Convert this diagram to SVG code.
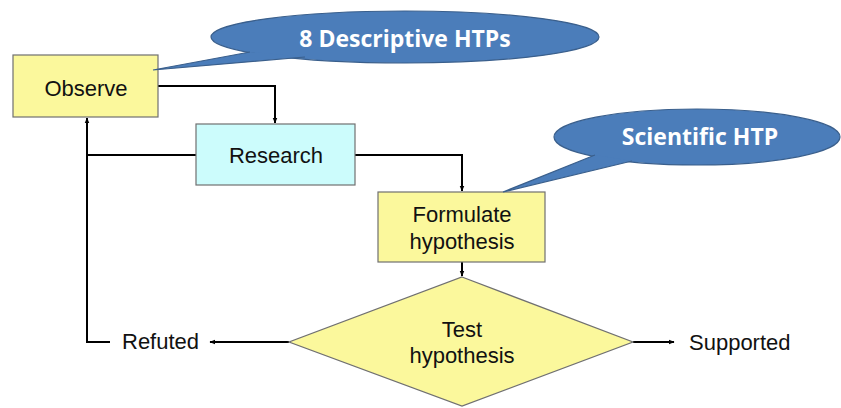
<svg xmlns="http://www.w3.org/2000/svg" width="841" height="408" viewBox="0 0 841 408">
  <defs>
    <marker id="arrow" viewBox="0 0 10 10" refX="9" refY="5" markerWidth="6" markerHeight="6" orient="auto" markerUnits="userSpaceOnUse">
      <path d="M0,1 L10,5 L0,9 z" fill="#000"/>
    </marker>
    <style>
      .box { stroke: #707070; stroke-width: 1.2; }
      .yellow { fill: #fbf89c; }
      .cyan { fill: #ccfcfc; }
      .lbl { font-family: "Liberation Sans", Arial, sans-serif; font-size: 22px; fill: #111; text-anchor: middle; }
      .plain { font-family: "Liberation Sans", Arial, sans-serif; font-size: 22px; fill: #111; }
      .bubble { fill: #4b7dba; stroke: #3a5f8c; stroke-width: 1.2; }
      .btxt { font-family: "Open Sans", "Liberation Sans", sans-serif; font-weight: bold; font-size: 23px; fill: #fff; text-anchor: middle; }
      .conn { fill: none; stroke: #000; stroke-width: 2; }
    </style>
  </defs>
  <rect width="841" height="408" fill="#fff"/>

  <!-- connectors -->
  <g id="connectors">
    <path class="conn" d="M158,86 H275 V123" marker-end="url(#arrow)"/>
    <path class="conn" d="M355,155 H462 V191" marker-end="url(#arrow)"/>
    <path class="conn" d="M196,155 H87"/>
    <path class="conn" d="M110,342 H87 V118" marker-end="url(#arrow)"/>
    <path class="conn" d="M462,262 V276" marker-end="url(#arrow)"/>
    <path class="conn" d="M289,342 H210" marker-end="url(#arrow)"/>
    <path class="conn" d="M633,342 H674" marker-end="url(#arrow)"/>
  </g>

  <g id="observe">
    <rect class="box yellow" x="13" y="55" width="145" height="62"/>
    <text class="lbl" x="86" y="96">Observe</text>
  </g>

  <g id="research">
    <rect class="box cyan" x="196" y="124" width="159" height="61"/>
    <text class="lbl" x="276" y="163">Research</text>
  </g>

  <g id="formulate">
    <rect class="box yellow" x="378" y="192" width="167" height="70"/>
    <text class="lbl" x="462" y="222">Formulate</text>
    <text class="lbl" x="462" y="249">hypothesis</text>
  </g>

  <g id="test">
    <polygon class="box yellow" points="462,277 633,342 462,406 289,342"/>
    <text class="lbl" x="462" y="337">Test</text>
    <text class="lbl" x="462" y="363">hypothesis</text>
  </g>

  <g id="refuted">
    <text class="plain" x="122" y="349">Refuted</text>
  </g>

  <g id="supported">
    <text class="plain" x="689" y="350">Supported</text>
  </g>

  <!-- speech bubbles: outlined ellipse, then a tail whose fill covers the outline where it joins -->
  <g id="callout-descriptive">
    <ellipse class="bubble" cx="405" cy="37" rx="194" ry="26"/>
    <path class="bubble" d="M250,52 L153,70 L305,57"/>
    <text class="btxt" x="405" y="47">8 Descriptive HTPs</text>
  </g>

  <g id="callout-scientific">
    <ellipse class="bubble" cx="697" cy="137" rx="143" ry="28"/>
    <path class="bubble" d="M595,155 L503,192 L632,161"/>
    <text class="btxt" x="700" y="145">Scientific HTP</text>
  </g>
</svg>
